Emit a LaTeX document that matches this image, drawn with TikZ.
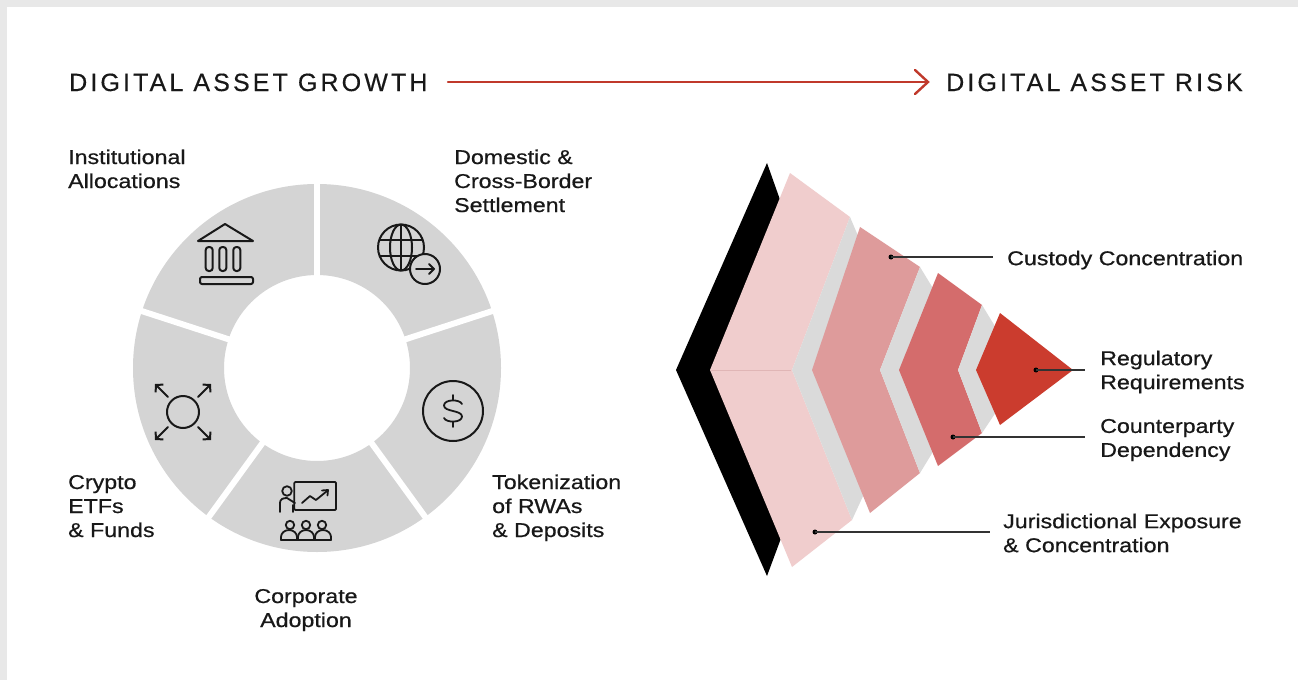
\documentclass[tikz,border=0pt]{standalone}
\usepackage{fontspec}
\setmainfont{Liberation Sans}[FakeStretch=1.16,FakeBold=0.6]
\newfontfamily\titlefont{Liberation Sans}[LetterSpace=12.5,FakeBold=0.4]
\usetikzlibrary{arrows.meta,calc}
\definecolor{ringgray}{RGB}{212,212,212}
\definecolor{bordergray}{RGB}{232,232,232}
\definecolor{arrowred}{RGB}{192,57,43}
\definecolor{pinkA}{RGB}{240,205,205}
\definecolor{pinkB}{RGB}{222,155,155}
\definecolor{pinkC}{RGB}{212,108,108}
\definecolor{redD}{RGB}{203,60,46}
\definecolor{bandgray}{RGB}{218,218,218}
\definecolor{foldpink}{RGB}{224,182,182}
\definecolor{ink}{RGB}{24,24,24}
\definecolor{leader}{RGB}{50,50,50}
\begin{document}
\begin{tikzpicture}[x=1pt,y=-1pt,
  lbl/.style={inner sep=0pt, font=\fontsize{20}{24}\selectfont, align=left, text=ink},
  ttl/.style={inner sep=0pt, font=\titlefont\fontsize{25}{30}\selectfont, text=ink},
  icon/.style={draw=ink, line width=2pt, line join=round, line cap=round},
  leaderline/.style={draw=leader, line width=1.3pt},
  dotm/.style={circle, fill=black, inner sep=0pt, minimum size=5pt},
  redline/.style={draw=arrowred, line width=2.4pt, line cap=round, line join=miter}]

\useasboundingbox (0,0) rectangle (1298,680);
\fill[white] (0,0) rectangle (1298,680);
\fill[bordergray] (0,0) rectangle (1298,7);
\fill[bordergray] (0,0) rectangle (7,680);

% titles and arrow
\node[ttl, anchor=base west] (tg) at (69,91) {DIGITAL ASSET GROWTH};
\node[ttl, anchor=base west] (tr) at (946,91) {DIGITAL ASSET RISK};
\coordinate (as) at (448,82);
\coordinate (ae) at (928,82);
\draw[redline] (as) -- (ae);
\draw[redline] ([shift={(-13,-12)}]ae) -- (ae) -- ([shift={(-13,12)}]ae);

% donut
\fill[ringgray, even odd rule] (317,368) circle[radius=184] (317,368) circle[radius=93];
\foreach \a in {-90,-162,-234,-306,-18}
  \draw[white, line width=6pt] (317,368) ++(\a:80) -- ++(\a:120);

% bank icon
\draw[icon] (198,241) -- (225,224) -- (253,241) -- cycle;
\draw[icon, rounded corners=3pt] (205.7,247) rectangle (212.7,271);
\draw[icon, rounded corners=3pt] (219.3,247) rectangle (226.3,271);
\draw[icon, rounded corners=3pt] (233.3,247) rectangle (240.3,271);
\draw[icon, rounded corners=2pt] (200,277) rectangle (253,284);

% globe icon
\draw[icon] (401,247.5) circle[radius=23];
\draw[icon] (401,247.5) ellipse[x radius=11, y radius=23];
\draw[icon] (401,224.5) -- (401,270.5);
\draw[icon] (379.5,239.5) -- (422.5,239.5);
\draw[icon] (379.5,255.5) -- (422.5,255.5);
\filldraw[icon, fill=ringgray] (425,269) circle[radius=15];
\draw[icon] (416,269) -- (434,269);
\draw[icon] (429,264) -- (434,269) -- (429,274);

% dollar icon
\draw[icon] (453,411) circle[radius=30];
\begin{scope}[shift={(453,411)}]
  \draw[icon, line width=1.8pt] (9,-7) .. controls (7,-12) and (-9,-12) .. (-9,-5.5)
     .. controls (-9,1) and (9,-1) .. (9,5.5) .. controls (9,12) and (-7,12) .. (-9,7);
  \draw[icon, line width=1.8pt] (0,-11) -- (0,-16);
  \draw[icon, line width=1.8pt] (0,11) -- (0,16);
\end{scope}

% corporate icon
\draw[icon, line width=1.8pt, rounded corners=1pt] (294.3,482) rectangle (336,510);
\draw[icon, line width=1.8pt] (302,503) -- (310,496) -- (316,500) -- (327,491);
\draw[icon, line width=1.8pt] (322,490.5) -- (328,490) -- (327.5,495.5);
\draw[icon, line width=1.8pt] (287,491) circle[radius=4.8];
\draw[icon, line width=1.8pt] (280,512) -- (280,503) .. controls (280,499) and (283,498) .. (287,498) -- (295,503);
\draw[icon, line width=1.8pt] (293,505) -- (293,512);
\foreach \cx in {290,306,322}
  \draw[icon, line width=1.8pt] (\cx,525) circle[radius=4.2];
\foreach \cx in {289,306,323}
  \draw[icon, line width=1.8pt] (\cx-8,540) -- (\cx-8,537) arc[start angle=180, end angle=360, x radius=8, y radius=7] -- (\cx+8,540);
\draw[icon, line width=1.8pt] (281,540) -- (331,540);

% crypto icon
\draw[icon] (183,412) circle[radius=16];
\draw[icon, -{Straight Barb[length=5pt,width=11pt]}] (168,397) -- (155,384);
\draw[icon, -{Straight Barb[length=5pt,width=11pt]}] (198,397) -- (211,384);
\draw[icon, -{Straight Barb[length=5pt,width=11pt]}] (168,427) -- (155,440);
\draw[icon, -{Straight Barb[length=5pt,width=11pt]}] (198,427) -- (211,440);

% left labels (base anchor = last line)
\node[lbl, anchor=base west] (inst) at (68,188) {Institutional\\Allocations};
\node[lbl, anchor=base west] (dom) at (454,212) {Domestic \&\\Cross-Border\\Settlement};
\node[lbl, anchor=base west] (cry) at (68,537) {Crypto\\ETFs\\\& Funds};
\node[lbl, anchor=base west] (tok) at (492,537) {Tokenization\\of RWAs\\\& Deposits};
\node[lbl, anchor=base, align=center] (corp) at (306,627) {Corporate\\Adoption};

% risk chevrons
\fill[black] (767,163) -- (676,370) -- (767,576) -- (790,514) -- (716,370) -- (790,228) -- cycle;
\fill[pinkA] (790,173) -- (850,217) -- (792,370) -- (852,520) -- (792,567) -- (710,370) -- cycle;
\draw[foldpink, line width=1pt] (711,370) -- (791,370);
\fill[bandgray] (850,217) -- (861,243) -- (816,370) -- (864,494) -- (852,520) -- (792,370) -- cycle;
\fill[pinkB] (860,227) -- (920,267) -- (880,370) -- (920,473) -- (870,513) -- (812,370) -- cycle;
\fill[bandgray] (920,267) -- (934,290) -- (905,370) -- (934,450) -- (920,473) -- (880,370) -- cycle;
\fill[pinkC] (938,273) -- (982,305) -- (958,370) -- (982,433) -- (938,466) -- (899,370) -- cycle;
\fill[bandgray] (982,305) -- (996,328) -- (984,370) -- (996,412) -- (982,433) -- (958,370) -- cycle;
\fill[redD] (1000,313) -- (1073,370) -- (1000,425) -- (976,370) -- cycle;

% right labels
\node[lbl, anchor=west] (cus) at (1007,260) {Custody Concentration};
\node[lbl, anchor=west] (reg) at (1100,372) {Regulatory\\Requirements};
\node[lbl, anchor=west] (cpd) at (1100,440) {Counterparty\\Dependency};
\node[lbl, anchor=west] (jur) at (1003,533) {Jurisdictional Exposure\\\& Concentration};

\node[dotm] (d1) at (891,257) {};
\node[dotm] (d2) at (1036,370) {};
\node[dotm] (d3) at (953,437) {};
\node[dotm] (d4) at (815,532) {};
\draw[leaderline] (d1.center) -- ($(d1.center -| cus.west)+(-14,0)$);
\draw[leaderline] (d2.center) -- ($(d2.center -| reg.west)+(-15,0)$);
\draw[leaderline] (d3.center) -- ($(d3.center -| cpd.west)+(-15,0)$);
\draw[leaderline] (d4.center) -- ($(d4.center -| jur.west)+(-13,0)$);
\end{tikzpicture}
\end{document}
